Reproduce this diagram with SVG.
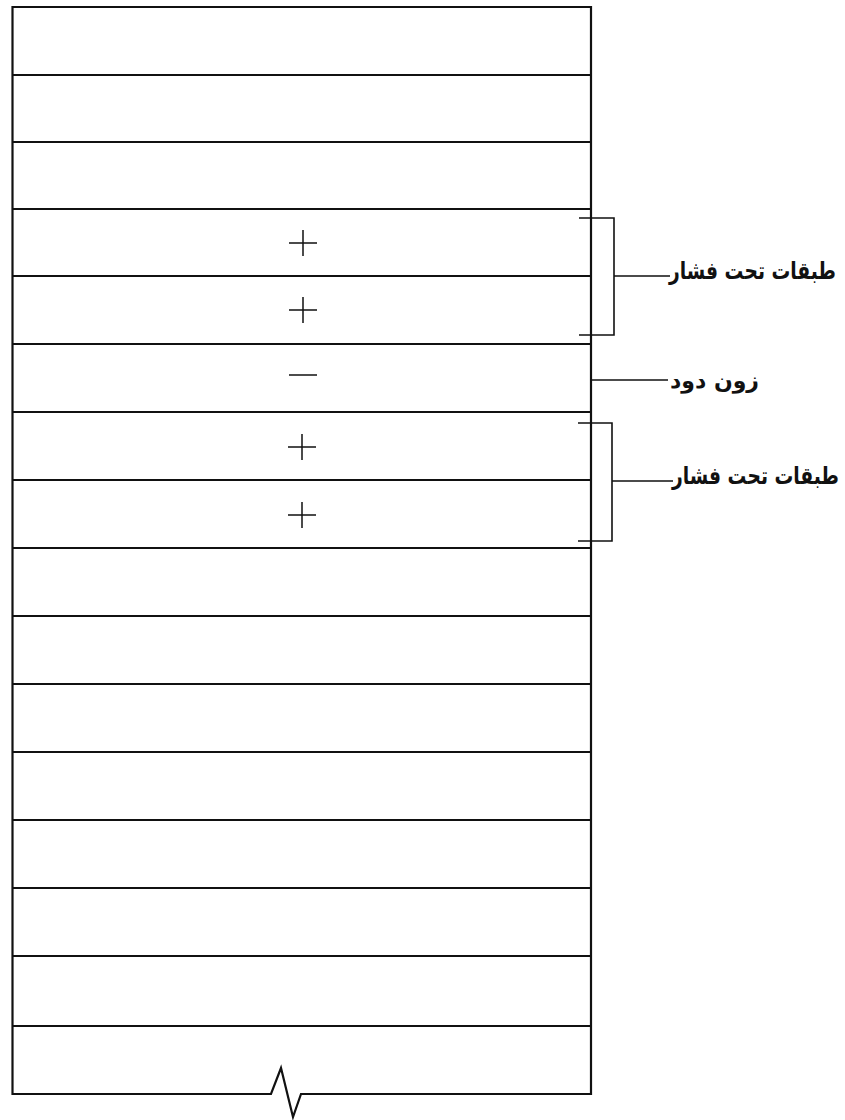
<svg xmlns="http://www.w3.org/2000/svg" width="845" height="1120" viewBox="0 0 845 1120">
<style>
.ln{stroke:#111;stroke-width:2.2;fill:none;stroke-linejoin:miter}
.thin{stroke:#111;stroke-width:1.6;fill:none}
.sg{stroke:#111;stroke-width:1.5;fill:none}
.lbl{font-family:"DejaVu Sans",sans-serif;font-size:24px;font-weight:bold;fill:#111}
</style>
<rect width="845" height="1120" fill="#fff"/>
<g id="column">
<path class="ln" d="M12.5,7 H591 V1094 H301 L293,1117 L281,1068 L271,1094 H12.5 Z"/>
<path class="ln" d="M12.5,75 H591 M12.5,142 H591 M12.5,209 H591 M12.5,276 H591 M12.5,344 H591 M12.5,412 H591 M12.5,480 H591 M12.5,548 H591 M12.5,616 H591 M12.5,684 H591 M12.5,752 H591 M12.5,820 H591 M12.5,888 H591 M12.5,956 H591 M12.5,1026 H591"/>
</g>
<g id="signs">
<path class="sg" d="M289,243 H317 M303,230 V256"/>
<path class="sg" d="M289,310 H317 M303,297 V323"/>
<path class="sg" d="M289,375 H317"/>
<path class="sg" d="M288,447 H316 M302,434 V460"/>
<path class="sg" d="M288,515 H316 M302,502 V528"/>
</g>
<g id="connectors">
<path class="thin" d="M579,218 H614 V335 H579 M614,276 H670"/>
<path class="thin" d="M578,423 H612 V541 H578 M612,481 H673"/>
<path class="thin" d="M591,380 H668"/>
</g>
<g id="label-top">
<text class="lbl" transform="translate(836,279) scale(0.78,1)" text-anchor="end">طبقات تحت فشار</text>
</g>
<g id="label-zone">
<text class="lbl" x="759" y="388" text-anchor="end" style="font-size:22px" letter-spacing="3">زون دود</text>
</g>
<g id="label-bottom">
<text class="lbl" transform="translate(839,484) scale(0.78,1)" text-anchor="end">طبقات تحت فشار</text>
</g>
</svg>
